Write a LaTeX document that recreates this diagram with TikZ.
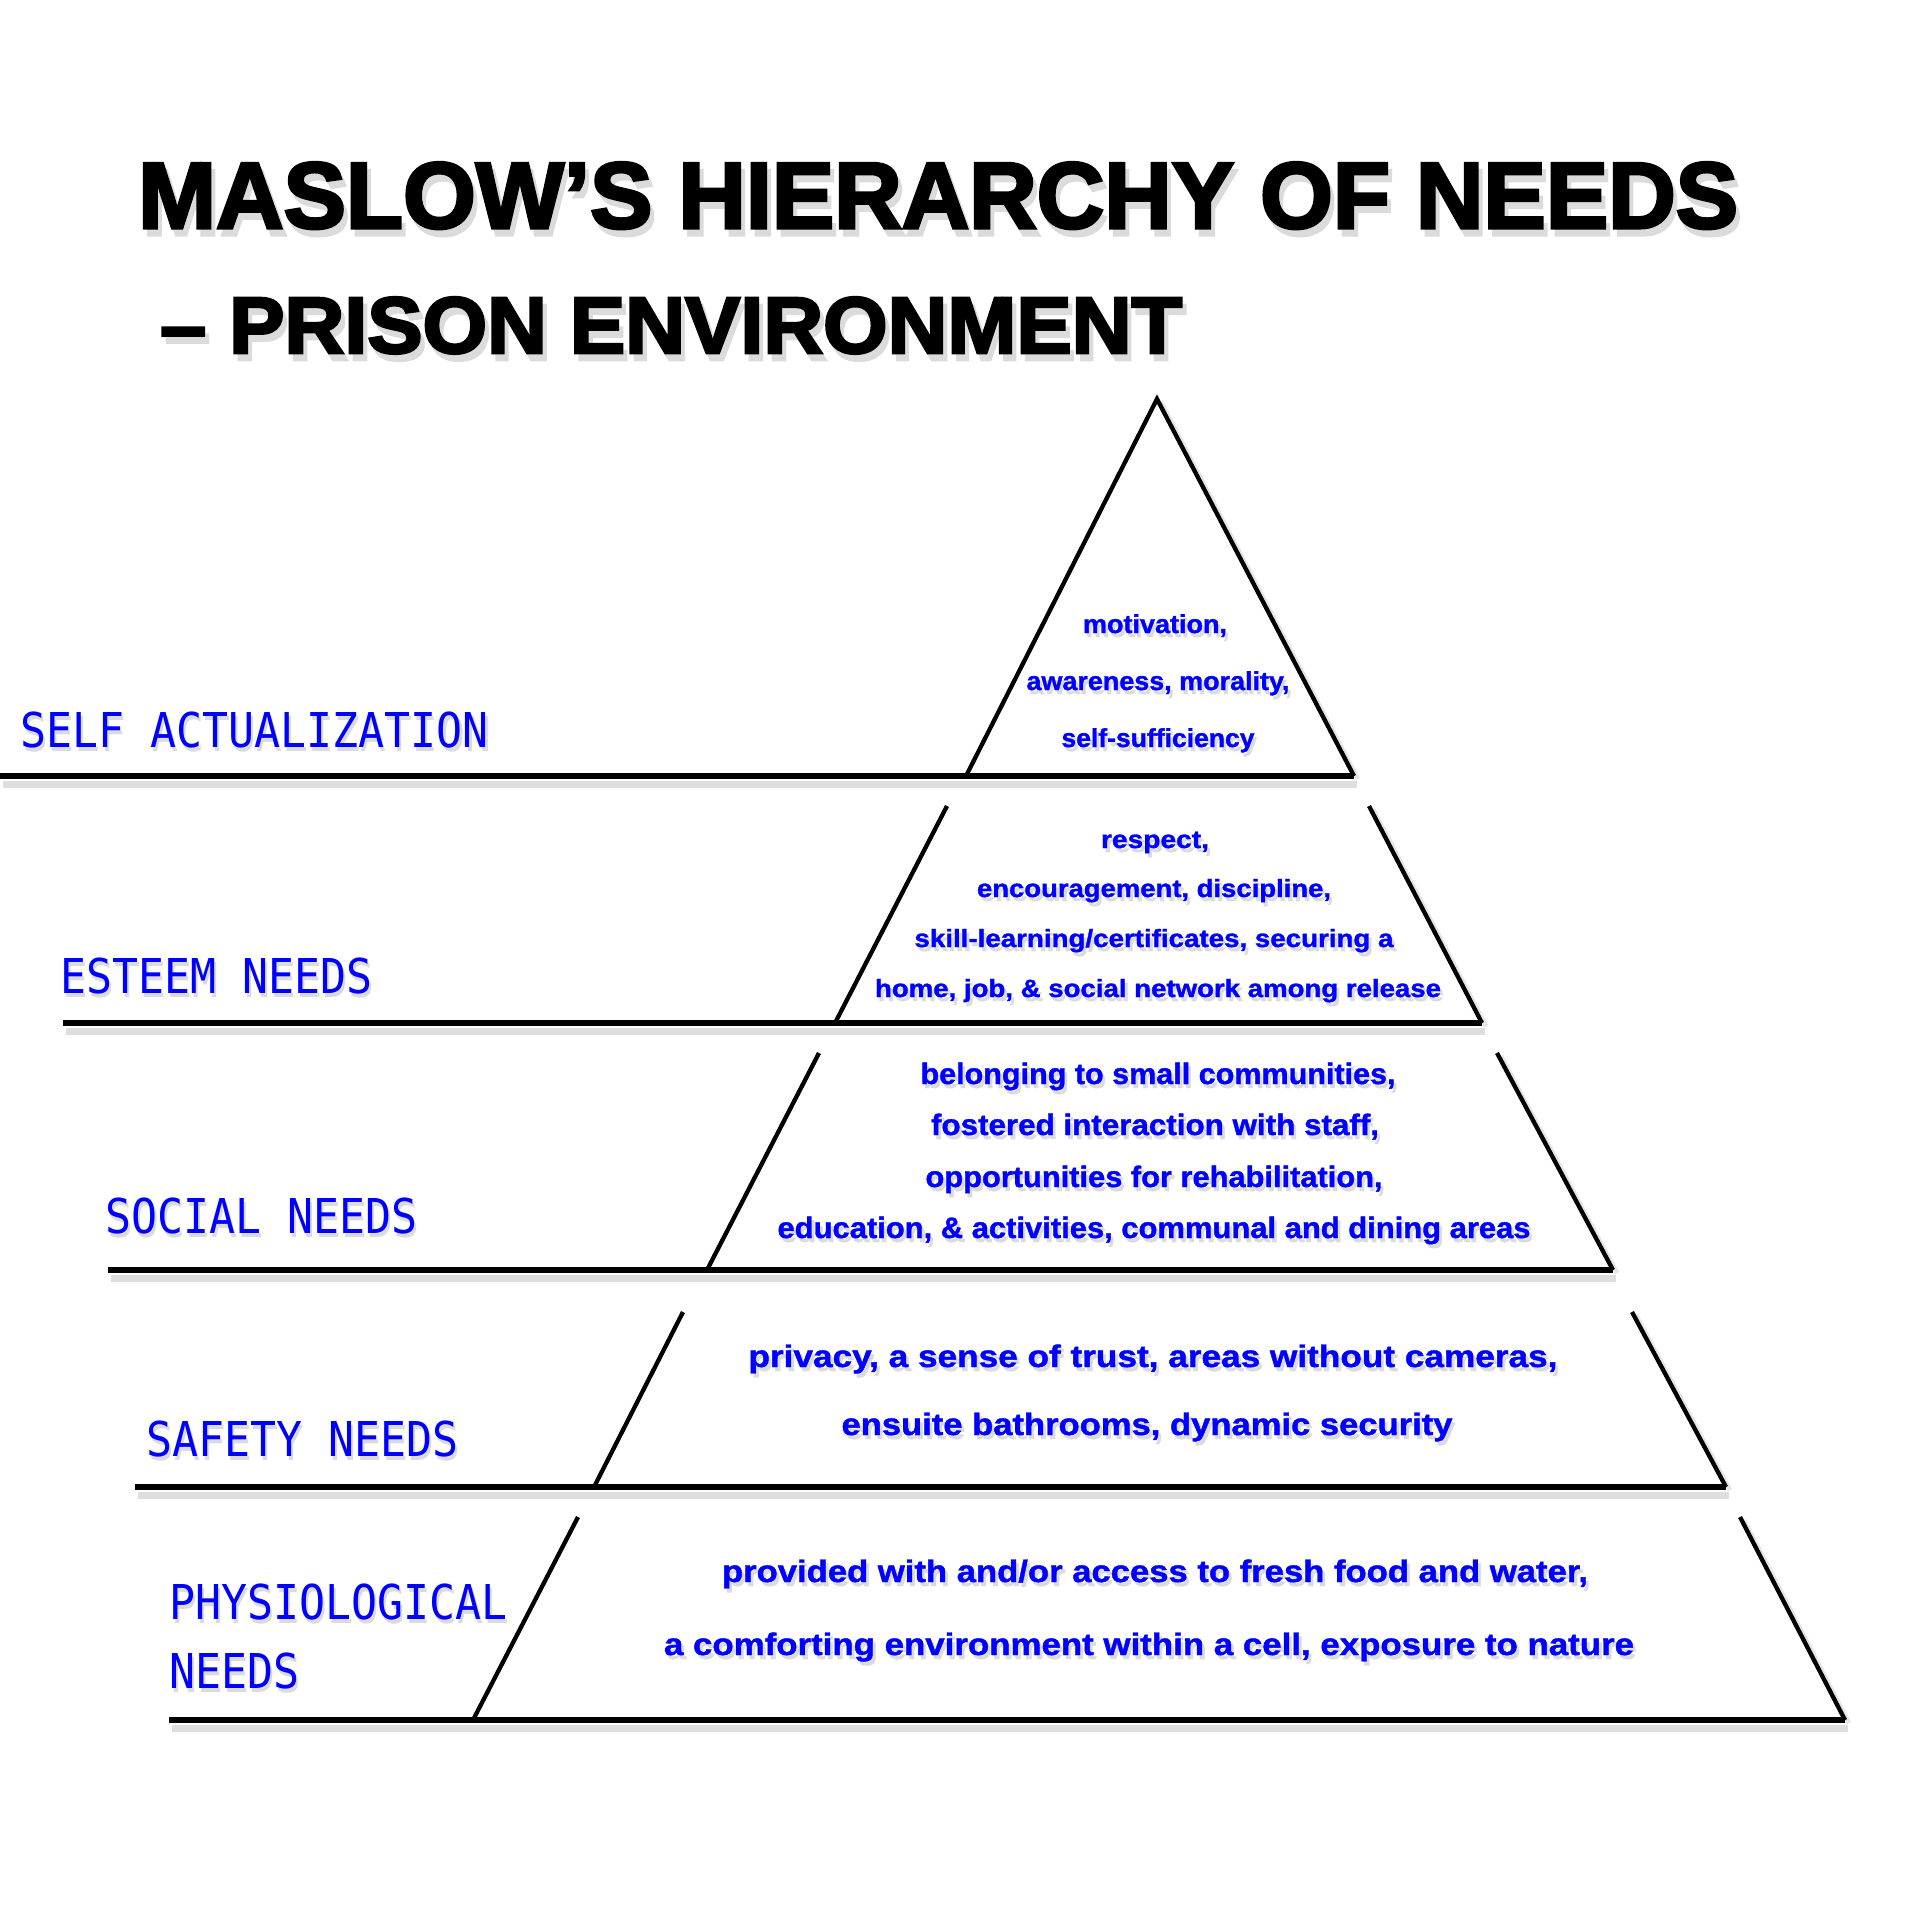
\documentclass[tikz,border=0pt]{standalone}
\usepackage{fontspec}
\usepackage{graphicx}
\setmainfont{Liberation Sans}
\newfontfamily\titlefont{Liberation Sans}[BoldFeatures={FakeBold=3.2}]
\newfontfamily\bodyfont{Liberation Sans}[BoldFeatures={FakeBold=1.2}]
\newfontfamily\labfont{DejaVu Sans Mono}
\newcommand\shadowed[3]{\makebox[0pt][l]{\hspace{#1pt}\raisebox{-#2pt}{\textcolor{black!14}{#3}}}#3}
\newcommand\fitline[3]{\resizebox{#1pt}{\height}{\fontsize{#2pt}{#2pt}\selectfont\shadowed{2.5}{4}{#3}}}
\newcommand\titleline[3]{\resizebox{#1pt}{\height}{\fontsize{#2pt}{#2pt}\selectfont\shadowed{4}{7}{#3}}}
\newcommand\labline[1]{\scalebox{0.9}[1]{\fontsize{48pt}{48pt}\selectfont\shadowed{3}{4}{#1}}}
\tikzset{
  body/.style={inner sep=0pt, text=blue, font=\bodyfont\bfseries},
  lab/.style={inner sep=0pt, text=blue, font=\labfont, anchor=base west},
  ttl/.style={inner sep=0pt, text=black, font=\titlefont\bfseries, anchor=base west},
  edgeln/.style={line width=4.3pt, black},
  floorln/.style={line width=5.6pt, black, line cap=butt},
  shadowln/.style={line width=7pt, black!13, line cap=butt},
}
\begin{document}
\begin{tikzpicture}[x=1pt, y=-1pt]
\fill[white] (0,0) rectangle (1920,1920);
\useasboundingbox (0,0) rectangle (1920,1920);

% title
\node[ttl] (title1) at (138,228) {\titleline{1600}{94}{MASLOW’S HIERARCHY OF NEEDS}};
\node[ttl] (title2) at (160,353) {\titleline{1022}{80}{– PRISON ENVIRONMENT}};

% coordinates of the pyramid
\coordinate (apex) at (1157,399);
\coordinate (t1bl) at (966,776);  \coordinate (t1br) at (1354,776); \coordinate (t1L) at (0,776);
\coordinate (t2tl) at (947,806);  \coordinate (t2tr) at (1369,806);
\coordinate (t2bl) at (835,1023); \coordinate (t2br) at (1482,1023); \coordinate (t2L) at (63,1023);
\coordinate (t3tl) at (819,1053); \coordinate (t3tr) at (1497,1053);
\coordinate (t3bl) at (707,1270); \coordinate (t3br) at (1613,1270); \coordinate (t3L) at (108,1270);
\coordinate (t4tl) at (683,1312); \coordinate (t4tr) at (1632,1312);
\coordinate (t4bl) at (594,1487); \coordinate (t4br) at (1726,1487); \coordinate (t4L) at (135,1487);
\coordinate (t5tl) at (578,1517); \coordinate (t5tr) at (1740,1517);
\coordinate (t5bl) at (473,1720); \coordinate (t5br) at (1845,1720); \coordinate (t5L) at (169,1720);

% shadows of lines
\foreach \n in {1,2,3,4,5}{
  \draw[shadowln] ([shift={(3,8)}]t\n L) -- ([shift={(3,8)}]t\n br);
}
\draw[line width=4.5pt, black!10] ([shift={(4,3)}]apex) -- ([shift={(4,3)}]t1br);
\foreach \n in {2,3,4,5}{
  \draw[line width=4.5pt, black!10] ([shift={(4,3)}]t\n tr) -- ([shift={(4,3)}]t\n br);
}

% tiers
\draw[edgeln, line join=miter] (t1bl) -- (apex) -- (t1br);
\draw[floorln] (t1L) -- (t1br);
\foreach \n in {2,3,4,5}{
  \draw[edgeln] (t\n tl) -- (t\n bl);
  \draw[edgeln] (t\n tr) -- (t\n br);
  \draw[floorln] (t\n L) -- (t\n br);
}

% labels
\node[lab] (lab1) at (20,747) {\labline{SELF ACTUALIZATION}};
\node[lab] (lab2) at (60,993) {\labline{ESTEEM NEEDS}};
\node[lab] (lab3) at (105,1233) {\labline{SOCIAL NEEDS}};
\node[lab] (lab4) at (146,1456) {\labline{SAFETY NEEDS}};
\node[lab] (lab5a) at (169,1619) {\labline{PHYSIOLOGICAL}};
\node[lab] (lab5b) at (169,1688) {\labline{NEEDS}};

% tier 1 text
\node[body, anchor=base] (t1a) at (1155,633) {\fitline{144}{26}{motivation,}};
\node[body, anchor=base] (t1b) at (1158,690) {\fitline{263}{26}{awareness, morality,}};
\node[body, anchor=base] (t1c) at (1158,747) {\fitline{193}{26}{self-sufficiency}};
% tier 2 text
\node[body, anchor=base] (t2a) at (1155,848) {\fitline{108}{25}{respect,}};
\node[body, anchor=base] (t2b) at (1154,897) {\fitline{354}{25}{encouragement, discipline,}};
\node[body, anchor=base] (t2c) at (1154,947) {\fitline{479}{25}{skill-learning/certificates, securing a}};
\node[body, anchor=base] (t2d) at (1158,997) {\fitline{566}{25}{home, job, \& social network among release}};
% tier 3 text
\node[body, anchor=base] (t3a) at (1158,1084) {\fitline{475}{29.5}{belonging to small communities,}};
\node[body, anchor=base] (t3b) at (1155,1135) {\fitline{448}{29.5}{fostered interaction with staff,}};
\node[body, anchor=base] (t3c) at (1154,1187) {\fitline{457}{29.5}{opportunities for rehabilitation,}};
\node[body, anchor=base] (t3d) at (1154,1238) {\fitline{753}{29.5}{education, \& activities, communal and dining areas}};
% tier 4 text
\node[body, anchor=base] (t4a) at (1153,1367) {\fitline{809}{31}{privacy, a sense of trust, areas without cameras,}};
\node[body, anchor=base] (t4b) at (1147,1435) {\fitline{611}{31}{ensuite bathrooms, dynamic security}};
% tier 5 text
\node[body, anchor=base] (t5a) at (1155,1582) {\fitline{866}{31}{provided with and/or access to fresh food and water,}};
\node[body, anchor=base] (t5b) at (1149,1655) {\fitline{970}{31}{a comforting environment within a cell, exposure to nature}};
\end{tikzpicture}
\end{document}
